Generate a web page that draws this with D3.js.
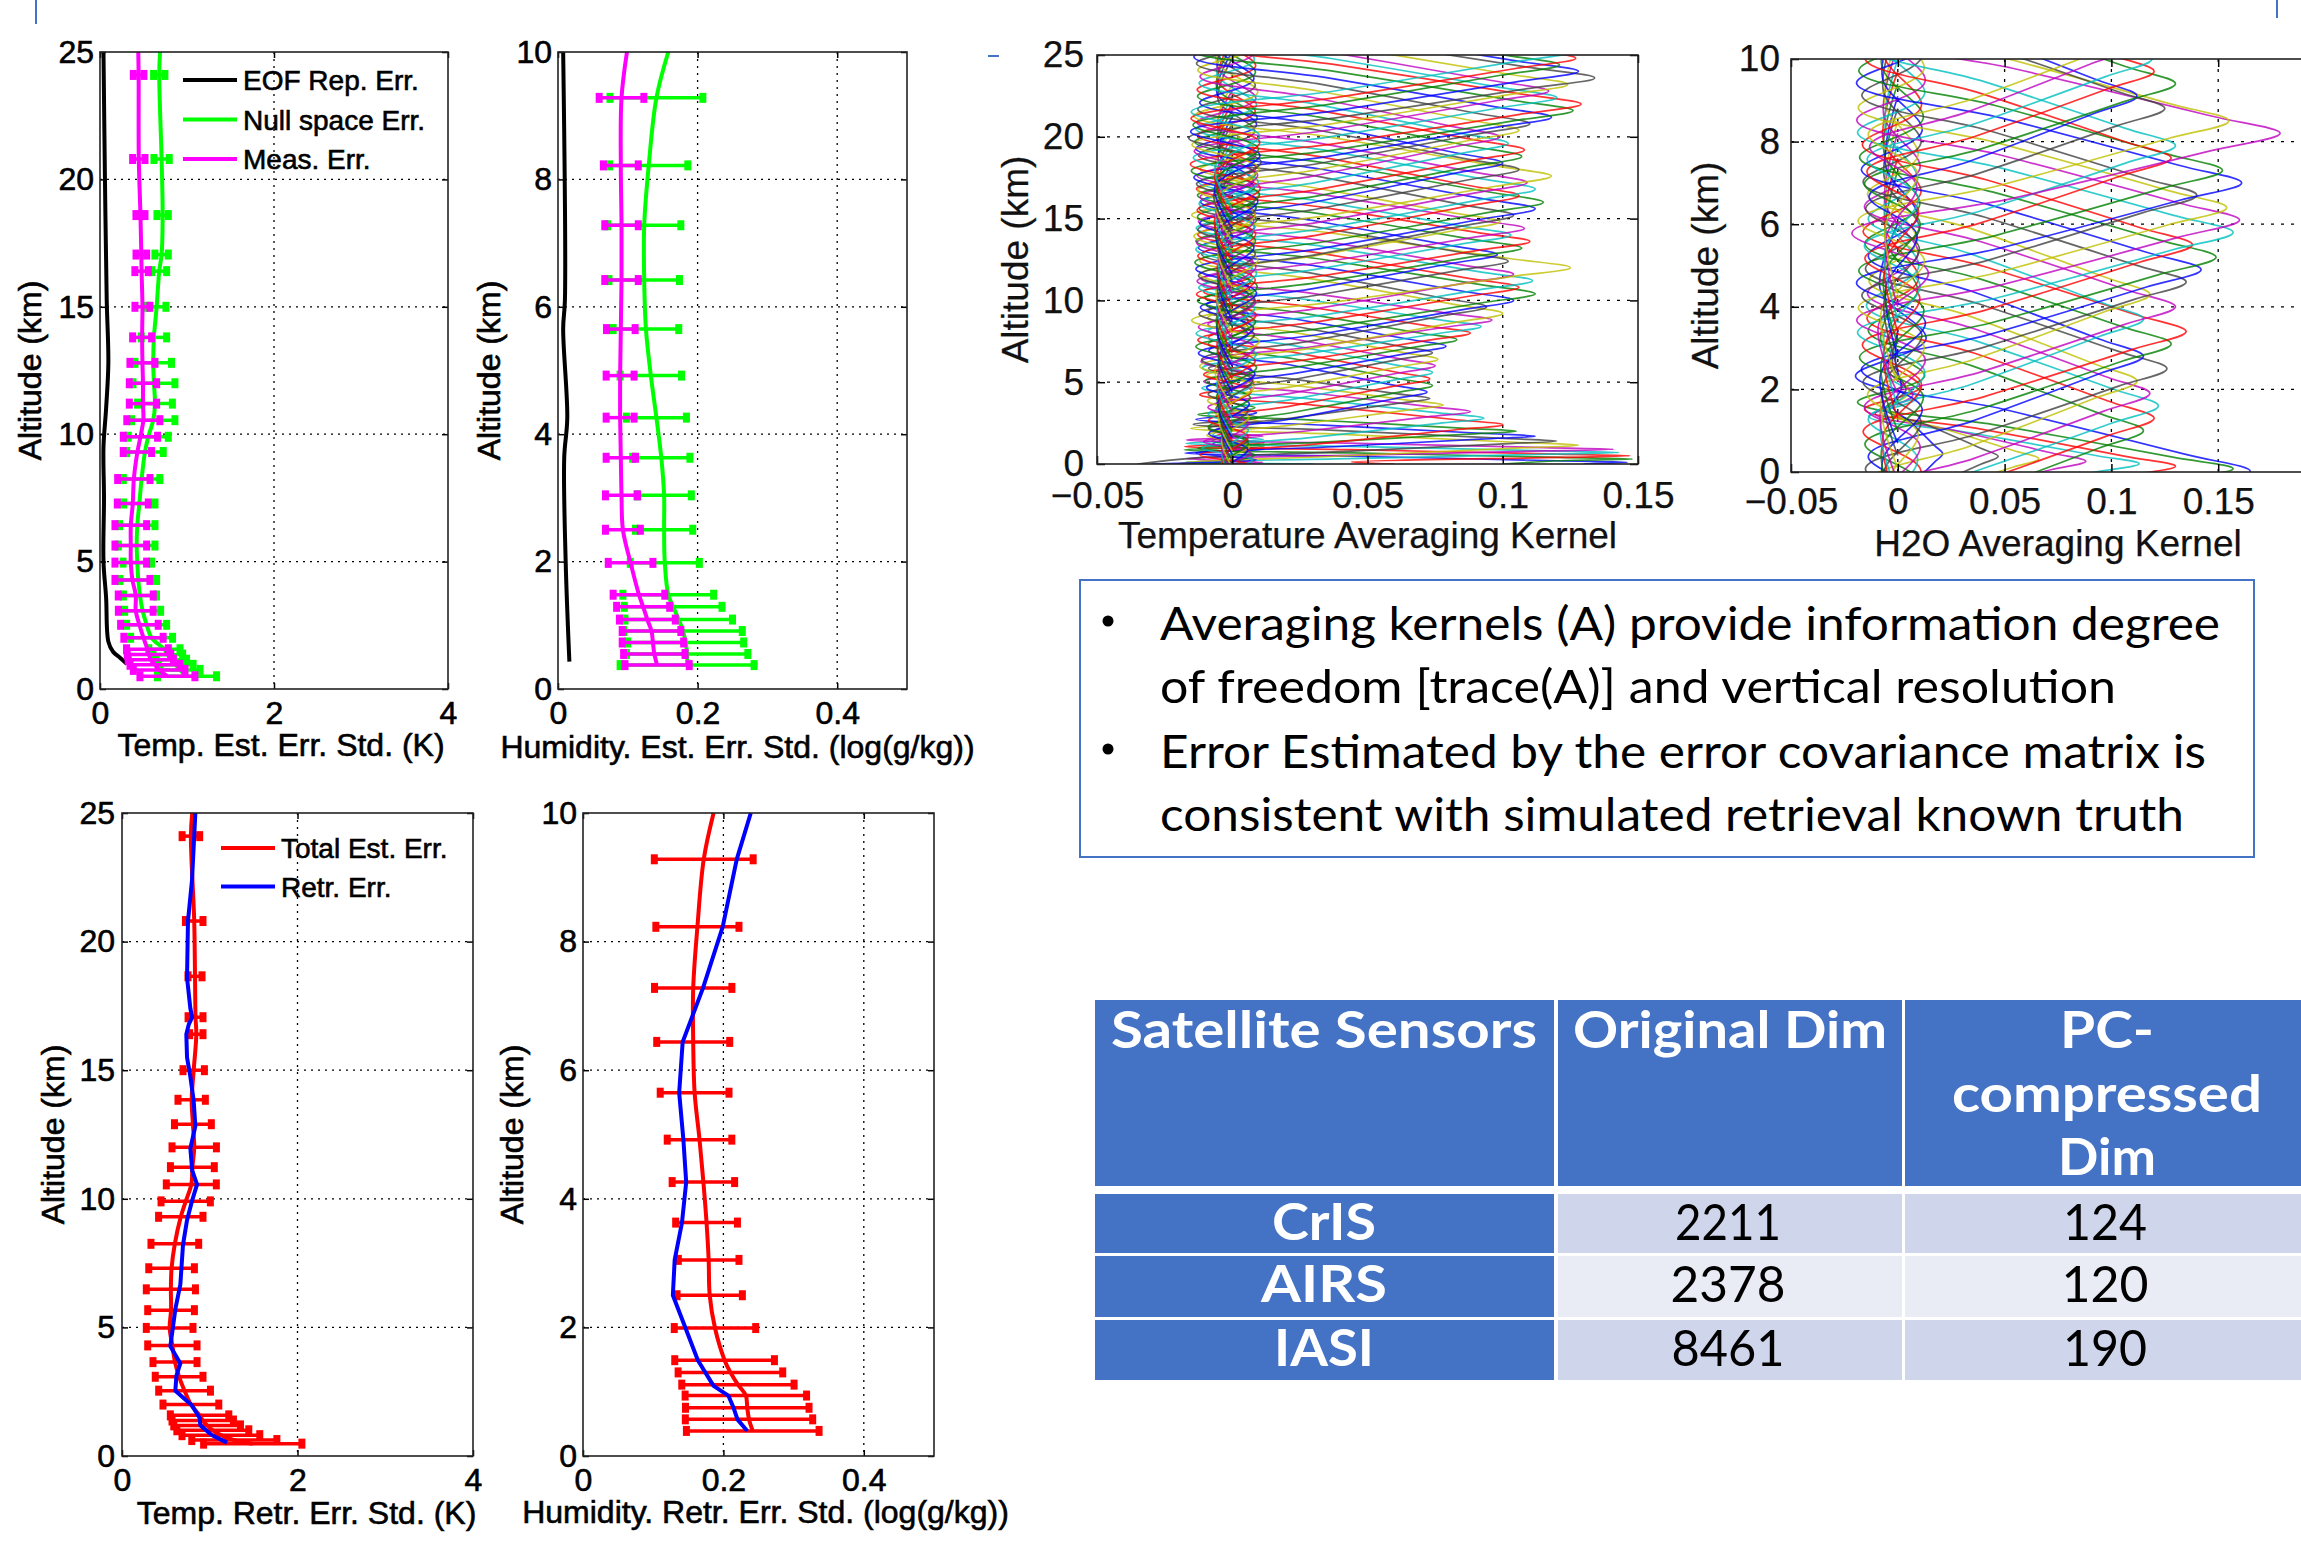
<!DOCTYPE html>
<meta charset="utf-8">
<title>Retrieval errors and averaging kernels</title>
<script src="https://d3js.org/d3.v7.min.js"></script>
<style>
  body { margin: 0; background: #fff; }
  svg { display: block; }
  .mat text { font-family: "Liberation Sans", Arial, sans-serif; fill: #000; }
  .heavy text { stroke: #000; stroke-width: 0.6px; }
  .soft text { fill: #111; stroke: #111; stroke-width: 0.25px; }
  .slide text { font-family: Lato, "Open Sans", sans-serif; }
</style>
<body>
<svg id="chart" width="2301" height="1555"></svg>
<script>

// ---- temperature estimated error (top left) ----
var altA = [24.1,20.8,18.6,17.05,16.4,15.0,13.8,12.8,12.0,11.2,10.55,9.9,9.3,8.24,7.28,6.43,5.63,4.96,4.28,3.67,3.07,2.52,2.01,1.56,1.35,1.15,0.95,0.75,0.5];
var measA = [0.444,0.446,0.465,0.475,0.478,0.488,0.484,0.488,0.494,0.494,0.498,0.465,0.43,0.389,0.377,0.354,0.354,0.354,0.373,0.411,0.411,0.453,0.5,0.545,0.563,0.584,0.632,0.68,0.775];
var measErrA = [0.061,0.071,0.052,0.061,0.077,0.086,0.109,0.144,0.157,0.157,0.19,0.197,0.163,0.186,0.178,0.182,0.182,0.182,0.201,0.201,0.2,0.216,0.226,0.24,0.25,0.26,0.287,0.297,0.316];
var nullA = [0.681,0.708,0.72,0.708,0.681,0.651,0.62,0.612,0.62,0.632,0.612,0.555,0.517,0.478,0.452,0.429,0.421,0.429,0.44,0.459,0.49,0.536,0.593,0.74,0.78,0.82,0.87,0.92,1.0];
var nullErrA = [0.065,0.088,0.065,0.077,0.085,0.107,0.146,0.21,0.241,0.2,0.249,0.23,0.21,0.21,0.18,0.203,0.211,0.164,0.211,0.19,0.207,0.23,0.241,0.18,0.17,0.175,0.2,0.23,0.34];
var measTopA = 0.44, nullTopA = 0.69;
var eofAltA = [25,20,15.3,12.8,11,9.5,7.5,5,3.6,1.86,1.46,1.23,0.98];
var eofA = [0.04,0.057,0.077,0.096,0.07,0.04,0.046,0.04,0.07,0.096,0.15,0.23,0.31];

// ---- humidity estimated error (top middle) ----
var altB = [9.28,8.22,7.28,6.42,5.65,4.92,4.26,3.63,3.04,2.5,1.98,1.48,1.29,1.09,0.91,0.73,0.55,0.375];
var measB = [0.091,0.09,0.091,0.091,0.09,0.089,0.089,0.09,0.091,0.093,0.104,0.116,0.122,0.128,0.134,0.136,0.138,0.142];
var measErrB = [0.032,0.025,0.024,0.024,0.0205,0.02,0.02,0.021,0.023,0.025,0.032,0.037,0.038,0.04,0.042,0.044,0.044,0.046];
var nullB = [0.141,0.13,0.1235,0.1235,0.126,0.133,0.141,0.148,0.152,0.152,0.153,0.158,0.165,0.173,0.179,0.183,0.185,0.185];
var nullErrB = [0.0665,0.056,0.0525,0.0505,0.047,0.044,0.043,0.041,0.039,0.041,0.0495,0.065,0.07,0.077,0.085,0.083,0.087,0.096];
var measTopB = 0.0988, nullTopB = 0.158;
var eofAltB = [10,6.1,5.66,4.26,3.63,2.0,0.43];
var eofB = [0.0074,0.0099,0.0074,0.0133,0.0089,0.011,0.0163];

// ---- temperature retrieval error (bottom left) ----
var altC = [24.1,20.8,18.65,17.06,16.4,15.0,13.85,12.9,12.0,11.23,10.56,9.9,9.3,8.25,7.3,6.48,5.67,4.98,4.3,3.65,3.08,2.54,2.0,1.58,1.38,1.19,1.0,0.81,0.62,0.48];
var totC = [0.785,0.823,0.832,0.838,0.847,0.817,0.794,0.808,0.823,0.802,0.79,0.726,0.67,0.602,0.565,0.557,0.559,0.543,0.574,0.604,0.651,0.713,0.785,0.884,0.92,0.97,1.035,1.127,1.28,1.49];
var totErrC = [0.1,0.1,0.08,0.085,0.076,0.122,0.156,0.21,0.253,0.25,0.285,0.281,0.253,0.272,0.26,0.28,0.266,0.266,0.281,0.251,0.272,0.295,0.318,0.333,0.35,0.38,0.41,0.443,0.485,0.56];
var totTopC = 0.8;
var retrAltC = [25,22.4,20.8,18.6,17.4,17.06,16.77,16.4,15.5,14.75,13.8,12.83,11.96,11.1,10.56,9.94,9.17,8.21,6.67,5.71,4.27,3.6,3.12,2.54,1.96,1.48,1.19,0.81,0.52];
var retrC = [0.836,0.798,0.752,0.741,0.779,0.8,0.76,0.733,0.741,0.779,0.817,0.836,0.779,0.8,0.855,0.8,0.741,0.695,0.665,0.608,0.551,0.665,0.62,0.608,0.798,0.885,0.893,1.026,1.197];

// ---- humidity retrieval error (bottom middle) ----
var altD = [9.28,8.23,7.28,6.44,5.65,4.92,4.26,3.63,3.05,2.5,1.99,1.49,1.3,1.11,0.94,0.75,0.57,0.39];
var totD = [0.172,0.163,0.157,0.157,0.159,0.166,0.1715,0.176,0.179,0.1805,0.188,0.2017,0.21,0.2207,0.232,0.234,0.2365,0.2418];
var totErrD = [0.0704,0.0592,0.0551,0.052,0.049,0.046,0.0445,0.044,0.0432,0.0465,0.058,0.071,0.0745,0.08,0.0865,0.088,0.0907,0.0945];
var totTopD = 0.186;
var retrAltD = [10,9.28,8.23,7.28,6.44,5.65,4.92,4.26,3.63,3.05,2.5,1.99,1.49,1.09,0.94,0.75,0.57,0.39];
var retrD = [0.239,0.219,0.199,0.171,0.142,0.137,0.143,0.147,0.141,0.1306,0.128,0.146,0.1636,0.186,0.207,0.2145,0.22,0.234];

// ---- averaging kernels: level, peak value, surface value ----
var akAltT = [0.1,0.3,0.5,0.7,0.9,1.15,1.4,1.7,2.0,2.4,2.8,3.2,3.6,4.0,4.4,4.8,5.2,5.6,6.0,6.4,6.8,7.2,7.6,8.0,8.4,8.8,9.2,9.6,10.0,10.4,10.8,11.2,11.6,12.0,12.4,12.8,13.2,13.6,14.0,14.4,14.8,15.2,15.6,16.0,16.4,16.8,17.2,17.6,18.0,18.4,18.8,19.2,19.6,20.0,20.4,20.8,21.2,21.6,22.0,22.4,22.8,23.2,23.6,24.0,24.4,24.8,25.2];
var akPeakT = [0.146,0.148,0.147,0.143,0.141,0.128,0.12,0.112,0.105,0.1,0.093,0.088,0.078,0.073,0.072,0.074,0.073,0.074,0.075,0.076,0.074,0.079,0.083,0.088,0.092,0.096,0.1,0.094,0.104,0.112,0.106,0.111,0.104,0.125,0.102,0.098,0.107,0.11,0.103,0.108,0.099,0.104,0.112,0.115,0.106,0.112,0.109,0.118,0.106,0.1,0.107,0.108,0.102,0.099,0.106,0.11,0.118,0.126,0.129,0.12,0.117,0.124,0.134,0.128,0.121,0.127,0.126];
var akSfcT = [0.13,0.1,0.06,0.03,0.0,-0.02,-0.035,-0.03,-0.015];
var akWidthTopT = [1, 2.2, 4.2, 9, 15, 30];
var akWidthT = [0.5, 0.9, 1.6, 2.2, 2.8, 3.2];

var akAltQ = [0.02,0.08,0.14,0.2,0.26,0.32,0.38,0.44,1.0,1.3,1.6,1.9,2.2,2.5,2.8,3.1,3.4,3.7,4.0,4.3,4.6,4.9,5.2,5.5,5.8,6.1,6.4,6.7,7.0,7.3,7.6,7.9,8.2,8.5,8.8,9.1,9.4,9.7,10.0,10.3,10.6];
var akPeakQ = [0.165,0.157,0.13,0.113,0.088,0.066,0.047,0.021,0.115,0.12,0.122,0.118,0.112,0.126,0.115,0.128,0.135,0.115,0.13,0.118,0.135,0.142,0.149,0.138,0.157,0.16,0.154,0.14,0.161,0.152,0.128,0.13,0.179,0.155,0.125,0.112,0.13,0.12,0.119,0.11,0.115];
var akWidthTopQ = [0.05, 0.1, 0.16, 0.5, 30];
var akWidthQ = [2.0, 1.4, 1.2, 1.0, 2.1];

// kernel shape, offsets in half-widths and fraction of the peak
var akShapeT = [-3,-2.2,-1.6,-1.15,-0.75,-0.2,0,0.2,0.75,1.15,1.6,2.2,3];
var akShapeV = [0,-0.05,0.08,-0.12,0.3,0.82,1,0.82,0.3,-0.12,0.08,-0.05,0];

var matlabColors = ["#0000ff","#008000","#ff0000","#00bfbf","#bf00bf","#bfbf00","#404040"];

// ---- text box and table ----
var bulletLines = ["Averaging kernels (A) provide information degree",
                   "of freedom [trace(A)] and vertical resolution",
                   "Error Estimated by the error covariance matrix is",
                   "consistent with simulated retrieval known truth"];
var tableHead = [["Satellite Sensors"], ["Original Dim"], ["PC-", "compressed", "Dim"]];
var sensors = ["CrIS", "AIRS", "IASI"];
var originalDim = ["2211", "2378", "8461"];
var compressedDim = ["124", "120", "190"];

var svg = d3.select("#chart");
svg.append("rect").attr("width", 2301).attr("height", 1555).attr("fill", "#fff");

function fmt(d) { return d < 0 ? "\u2212" + String(-d) : String(d); }

function panel(o) {
	var g = svg.append("g").attr("class", "mat " + o.cls)
		.attr("transform", "translate(" + o.left + "," + o.top + ")");
	var w = o.width, h = o.height;
	var x = d3.scaleLinear().domain(o.xDomain).range([0, w]);
	var y = d3.scaleLinear().domain(o.yDomain).range([h, 0]);

	g.selectAll(".vg").data(o.xGrid).enter().append("line")
		.attr("x1", function(d){return x(d)}).attr("x2", function(d){return x(d)})
		.attr("y1", 0).attr("y2", h)
		.attr("stroke", "#000").attr("stroke-width", 1.3).attr("stroke-dasharray", o.dash);
	g.selectAll(".hg").data(o.yGrid).enter().append("line")
		.attr("y1", function(d){return y(d)}).attr("y2", function(d){return y(d)})
		.attr("x1", 0).attr("x2", w)
		.attr("stroke", "#000").attr("stroke-width", 1.3).attr("stroke-dasharray", o.dash);

	var plot = g.append("g");
	if (o.clip) {
		var id = "clip" + o.left;
		g.append("clipPath").attr("id", id).append("rect").attr("width", w).attr("height", h);
		plot.attr("clip-path", "url(#" + id + ")");
	}

	var axes = [
		g.append("g").attr("transform", "translate(0," + h + ")")
			.call(d3.axisBottom(x).tickValues(o.xTicks).tickSize(-o.tick).tickSizeOuter(0).tickPadding(o.xPad).tickFormat(fmt)),
		g.append("g")
			.call(d3.axisLeft(y).tickValues(o.yTicks).tickSize(-o.tick).tickSizeOuter(0).tickPadding(o.yPad).tickFormat(fmt)),
		g.append("g")
			.call(d3.axisTop(x).tickValues(o.xTicks).tickSize(-o.tick).tickSizeOuter(0).tickFormat("")),
		g.append("g").attr("transform", "translate(" + w + ",0)")
			.call(d3.axisRight(y).tickValues(o.yTicks).tickSize(-o.tick).tickSizeOuter(0).tickFormat(""))
	];
	axes.forEach(function(a) {
		a.attr("font-family", null).attr("font-size", null);
		a.select(".domain").remove();
		a.selectAll(".tick line").attr("stroke", "#000").attr("stroke-width", 1.5);
		a.selectAll("text").style("font-size", o.tickFont + "px");
	});

	g.append("rect").attr("width", w).attr("height", h)
		.attr("fill", "none").attr("stroke", "#222").attr("stroke-width", 1.6);

	g.append("text").attr("x", w / 2 + o.xLabelShift).attr("y", h + o.xLabelY)
		.attr("text-anchor", "middle").style("font-size", o.labelFont + "px").text(o.xLabel);
	g.append("text").attr("transform", "translate(" + o.yLabelX + "," + (h / 2) + ") rotate(-90)")
		.attr("text-anchor", "middle").style("font-size", o.labelFont + "px").text("Altitude (km)");

	return {g: g, plot: plot, x: x, y: y};
}

function profile(p, alt, val, color, curve) {
	p.plot.append("path").datum(d3.zip(val, alt))
		.attr("fill", "none").attr("stroke", color).attr("stroke-width", 4)
		.attr("stroke-linejoin", "round")
		.attr("d", d3.line().x(function(d){return p.x(d[0])}).y(function(d){return p.y(d[1])}).curve(curve));
}

function errorBars(p, alt, c, e, color) {
	var bars = p.plot.append("g").selectAll("g").data(alt).enter().append("g");
	bars.append("line")
		.attr("x1", function(d, i){return p.x(c[i] - e[i])})
		.attr("x2", function(d, i){return p.x(c[i] + e[i])})
		.attr("y1", function(d){return p.y(d)}).attr("y2", function(d){return p.y(d)})
		.attr("stroke", color).attr("stroke-width", 3.5);
	[-1, 1].forEach(function(s) {
		bars.append("rect")
			.attr("x", function(d, i){return p.x(c[i] + s * e[i]) - 3.5})
			.attr("y", function(d){return p.y(d) - 5})
			.attr("width", 7).attr("height", 10).attr("fill", color);
	});
}

function legend(p, names, colors, x0, y0, dy) {
	var lg = p.g.append("g").selectAll("g").data(names).enter().append("g")
		.attr("transform", function(d, i){return "translate(" + x0 + "," + (y0 + i * dy) + ")"});
	lg.append("line").attr("x1", 0).attr("x2", 54).attr("stroke-width", 4)
		.attr("stroke", function(d, i){return colors[i]});
	lg.append("text").attr("x", 60).attr("dy", "0.36em").style("font-size", "28px").text(function(d){return d});
}

function widthAt(z, tops, vals) {
	for (var i = 0; i < tops.length; i++) if (z < tops[i]) return vals[i];
	return vals[vals.length - 1];
}

function kernels(p, alts, peaks, sfc, tops, widths) {
	var line = d3.line().x(function(d){return p.x(d[0])}).y(function(d){return p.y(d[1])})
		.curve(d3.curveCatmullRom.alpha(0.5));
	alts.forEach(function(z, i) {
		var w = widthAt(z, tops, widths);
		var pts = akShapeT.map(function(t, j){return [akShapeV[j] * peaks[i], z + t * w]});
		if (i < sfc.length) {
			pts = pts.filter(function(d){return d[1] > 0});
			pts.unshift([sfc[i], 0]);
		}
		p.plot.append("path").datum(pts)
			.attr("fill", "none").attr("stroke", matlabColors[i % matlabColors.length])
			.attr("stroke-width", 1.7).attr("stroke-opacity", 0.8)
			.attr("d", line);
	});
}

var cr = d3.curveCatmullRom.alpha(0.5);

// top left
var pA = panel({cls: "heavy", left: 100, top: 52, width: 348, height: 637,
	xDomain: [0, 4], yDomain: [0, 25], xTicks: [0, 2, 4], yTicks: [0, 5, 10, 15, 20, 25],
	xGrid: [2], yGrid: [5, 10, 15, 20], dash: "2,5", tick: 6, xPad: 12, yPad: 6,
	tickFont: 32, labelFont: 32, xLabel: "Temp. Est. Err. Std. (K)", xLabelShift: 7, xLabelY: 67, yLabelX: -59});
profile(pA, eofAltA, eofA, "#000", cr);
errorBars(pA, altA, nullA, nullErrA, "#00ff00");
profile(pA, [25].concat(altA), [nullTopA].concat(nullA), "#00ff00", cr);
errorBars(pA, altA, measA, measErrA, "#ff00ff");
profile(pA, [25].concat(altA), [measTopA].concat(measA), "#ff00ff", cr);
legend(pA, ["EOF Rep. Err.", "Null space Err.", "Meas. Err."], ["#000", "#00ff00", "#ff00ff"], 83, 28, 39.5);

// top middle
var pB = panel({cls: "heavy", left: 558, top: 52, width: 349, height: 637,
	xDomain: [0, 0.5], yDomain: [0, 10], xTicks: [0, 0.2, 0.4], yTicks: [0, 2, 4, 6, 8, 10],
	xGrid: [0.2, 0.4], yGrid: [2, 4, 6, 8], dash: "2,5", tick: 6, xPad: 12, yPad: 6,
	tickFont: 32, labelFont: 32, xLabel: "Humidity. Est. Err. Std. (log(g/kg))", xLabelShift: 5, xLabelY: 69, yLabelX: -58});
profile(pB, eofAltB, eofB, "#000", cr);
errorBars(pB, altB, nullB, nullErrB, "#00ff00");
profile(pB, [10].concat(altB), [nullTopB].concat(nullB), "#00ff00", cr);
errorBars(pB, altB, measB, measErrB, "#ff00ff");
profile(pB, [10].concat(altB), [measTopB].concat(measB), "#ff00ff", cr);

// bottom left
var pC = panel({cls: "heavy", left: 122, top: 813, width: 351, height: 643,
	xDomain: [0, 4], yDomain: [0, 25], xTicks: [0, 2, 4], yTicks: [0, 5, 10, 15, 20, 25],
	xGrid: [2], yGrid: [5, 10, 15, 20], dash: "2,5", tick: 6, xPad: 12, yPad: 7,
	tickFont: 32, labelFont: 32, xLabel: "Temp. Retr. Err. Std. (K)", xLabelShift: 9, xLabelY: 68, yLabelX: -58});
errorBars(pC, altC, totC, totErrC, "#ff0000");
profile(pC, [25].concat(altC), [totTopC].concat(totC), "#ff0000", cr);
profile(pC, retrAltC, retrC, "#0000ff", d3.curveLinear);
legend(pC, ["Total Est. Err.", "Retr. Err."], ["#ff0000", "#0000ff"], 99, 35, 38.5);

// bottom middle
var pD = panel({cls: "heavy", left: 583, top: 813, width: 351, height: 643,
	xDomain: [0, 0.5], yDomain: [0, 10], xTicks: [0, 0.2, 0.4], yTicks: [0, 2, 4, 6, 8, 10],
	xGrid: [0.2, 0.4], yGrid: [2, 4, 6, 8], dash: "2,5", tick: 6, xPad: 12, yPad: 6,
	tickFont: 32, labelFont: 32, xLabel: "Humidity. Retr. Err. Std. (log(g/kg))", xLabelShift: 7, xLabelY: 67, yLabelX: -60});
errorBars(pD, altD, totD, totErrD, "#ff0000");
profile(pD, [10].concat(altD), [totTopD].concat(totD), "#ff0000", cr);
profile(pD, retrAltD, retrD, "#0000ff", d3.curveLinear);

// temperature averaging kernel
var pE = panel({cls: "soft", clip: true, left: 1097, top: 55, width: 541, height: 409,
	xDomain: [-0.05, 0.15], yDomain: [0, 25], xTicks: [-0.05, 0, 0.05, 0.1, 0.15], yTicks: [0, 5, 10, 15, 20, 25],
	xGrid: [0, 0.05, 0.1], yGrid: [5, 10, 15, 20], dash: "3,7", tick: 8, xPad: 18, yPad: 13,
	tickFont: 37, labelFont: 37, xLabel: "Temperature Averaging Kernel", xLabelShift: 0, xLabelY: 84, yLabelX: -69});
kernels(pE, akAltT, akPeakT, akSfcT, akWidthTopT, akWidthT);

// H2O averaging kernel
var pF = panel({cls: "soft", clip: true, left: 1791, top: 59, width: 534, height: 413,
	xDomain: [-0.05, 0.2], yDomain: [0, 10], xTicks: [-0.05, 0, 0.05, 0.1, 0.15], yTicks: [0, 2, 4, 6, 8, 10],
	xGrid: [0, 0.05, 0.1, 0.15], yGrid: [2, 4, 6, 8], dash: "3,7", tick: 8, xPad: 16, yPad: 11,
	tickFont: 37, labelFont: 37, xLabel: "H2O Averaging Kernel", xLabelShift: 0, xLabelY: 84, yLabelX: -73});
kernels(pF, akAltQ, akPeakQ, [], akWidthTopQ, akWidthQ);

// slide decorations
var slide = svg.append("g").attr("class", "slide");
slide.append("line").attr("x1", 36).attr("x2", 36).attr("y1", 0).attr("y2", 24).attr("stroke", "#4472c4").attr("stroke-width", 2);
slide.append("line").attr("x1", 2277).attr("x2", 2277).attr("y1", 0).attr("y2", 18).attr("stroke", "#4472c4").attr("stroke-width", 2);
slide.append("line").attr("x1", 988).attr("x2", 999).attr("y1", 56).attr("y2", 56).attr("stroke", "#4472c4").attr("stroke-width", 2);

// bullet box
slide.append("rect").attr("x", 1080).attr("y", 580).attr("width", 1174).attr("height", 277)
	.attr("fill", "none").attr("stroke", "#4472c4").attr("stroke-width", 2);
var bulletBase = [640, 703, 768, 831];
var bulletWidth = [1060, 956, 1046, 1024];
slide.selectAll(".bl").data(bulletLines).enter().append("text")
	.attr("x", 1160).attr("y", function(d, i){return bulletBase[i]})
	.attr("textLength", function(d, i){return bulletWidth[i]}).attr("lengthAdjust", "spacingAndGlyphs")
	.style("font-size", "46px").attr("fill", "#000").text(function(d){return d});
slide.selectAll(".dot").data([0, 2]).enter().append("circle")
	.attr("cx", 1108).attr("cy", function(d){return bulletBase[d] - 19}).attr("r", 5.5).attr("fill", "#000");

// table
var colX = [[1095, 1554], [1558, 1902], [1905, 2311]];
var rowY = [[1194, 1253], [1256, 1317], [1320, 1380]];
var rowFill = ["#cfd5ea", "#e9ebf5", "#cfd5ea"];
colX.forEach(function(c) {
	slide.append("rect").attr("x", c[0]).attr("y", 1000).attr("width", c[1] - c[0]).attr("height", 186).attr("fill", "#4472c4");
});
rowY.forEach(function(r, i) {
	colX.forEach(function(c, j) {
		slide.append("rect").attr("x", c[0]).attr("y", r[0]).attr("width", c[1] - c[0]).attr("height", r[1] - r[0])
			.attr("fill", j === 0 ? "#4472c4" : rowFill[i]);
	});
});
var colCenter = [1324, 1730, 2107];
var headWidth = [[426], [314], [94, 310, 98]];
tableHead.forEach(function(lines, j) {
	lines.forEach(function(t, k) {
		slide.append("text").attr("x", colCenter[j]).attr("y", 1048 + k * 63.5)
			.attr("text-anchor", "middle").attr("textLength", headWidth[j][k]).attr("lengthAdjust", "spacingAndGlyphs")
			.style("font-size", "51px").style("font-weight", "bold").attr("fill", "#fff").text(t);
	});
});
var cellWidth = [[104, 126, 100], [106, 115, 113], [84, 87, 84]];
[sensors, originalDim, compressedDim].forEach(function(col, j) {
	col.forEach(function(t, i) {
		slide.append("text").attr("x", colCenter[j] + (j === 0 ? 0 : -2)).attr("y", rowY[i][0] + 46)
			.attr("text-anchor", "middle").attr("textLength", cellWidth[j][i]).attr("lengthAdjust", "spacingAndGlyphs")
			.style("font-size", "51px").style("font-weight", j === 0 ? "bold" : "normal")
			.attr("fill", j === 0 ? "#fff" : "#000").text(t);
	});
});

</script>
</body>
